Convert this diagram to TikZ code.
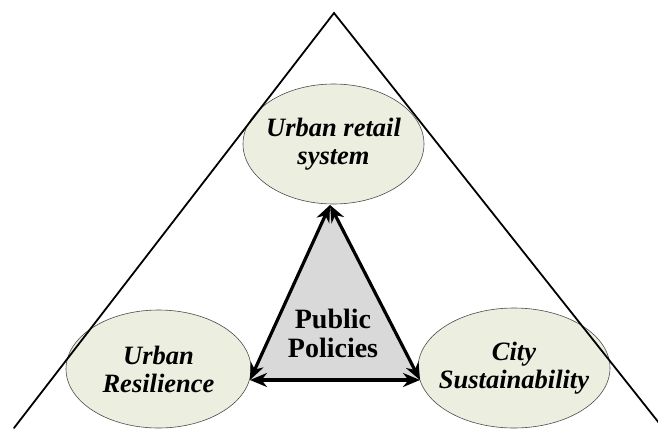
\documentclass[tikz,border=0pt]{standalone}
\usepackage{fontspec}
\setmainfont{Liberation Serif}
\usetikzlibrary{shapes.geometric,arrows.meta}
\definecolor{ellfill}{HTML}{ECEEDF}
\definecolor{inner}{HTML}{D9D9D9}
\tikzset{
  topic/.style={ellipse, draw=black!70, line width=0.6pt, fill=ellfill, inner sep=-30pt, align=center, font=\fontsize{26.5}{28}\selectfont\bfseries\itshape},
  link/.style={line width=3.2pt, {Stealth[length=17pt,width=14pt]}-{Stealth[length=17pt,width=14pt]}},
  frame/.style={line width=1.8pt, line cap=round}
}
\begin{document}
\begin{tikzpicture}[x=1pt,y=-1pt]
\useasboundingbox (0,0) rectangle (658,428);
\node[topic, minimum width=181pt, minimum height=120pt] (ret) at (333.5,144) {Urban retail\\system};
\node[topic, minimum width=185pt, minimum height=118pt] (res) at (158.5,369) {Urban\\Resilience};
\node[topic, minimum width=192pt, minimum height=120pt] (sus) at (514,368) {City\\Sustainability};
\coordinate (A) at (330,205);
\coordinate (B) at (250,380);
\coordinate (C) at (420,380);
\fill[inner] (A) -- (B) -- (C) -- cycle;
\node[font=\fontsize{28}{29}\selectfont\bfseries, align=center] (pp) at (333,333) {Public\\Policies};
\draw[link] (A) -- (B);
\draw[link] (A) -- (C);
\draw[link] (B) -- (C);
\coordinate (apex) at (334,13);
\coordinate (bl) at (14,428);
\coordinate (br) at (663,428);
\draw[frame] (bl) -- (apex) -- (br);
\end{tikzpicture}
\end{document}
